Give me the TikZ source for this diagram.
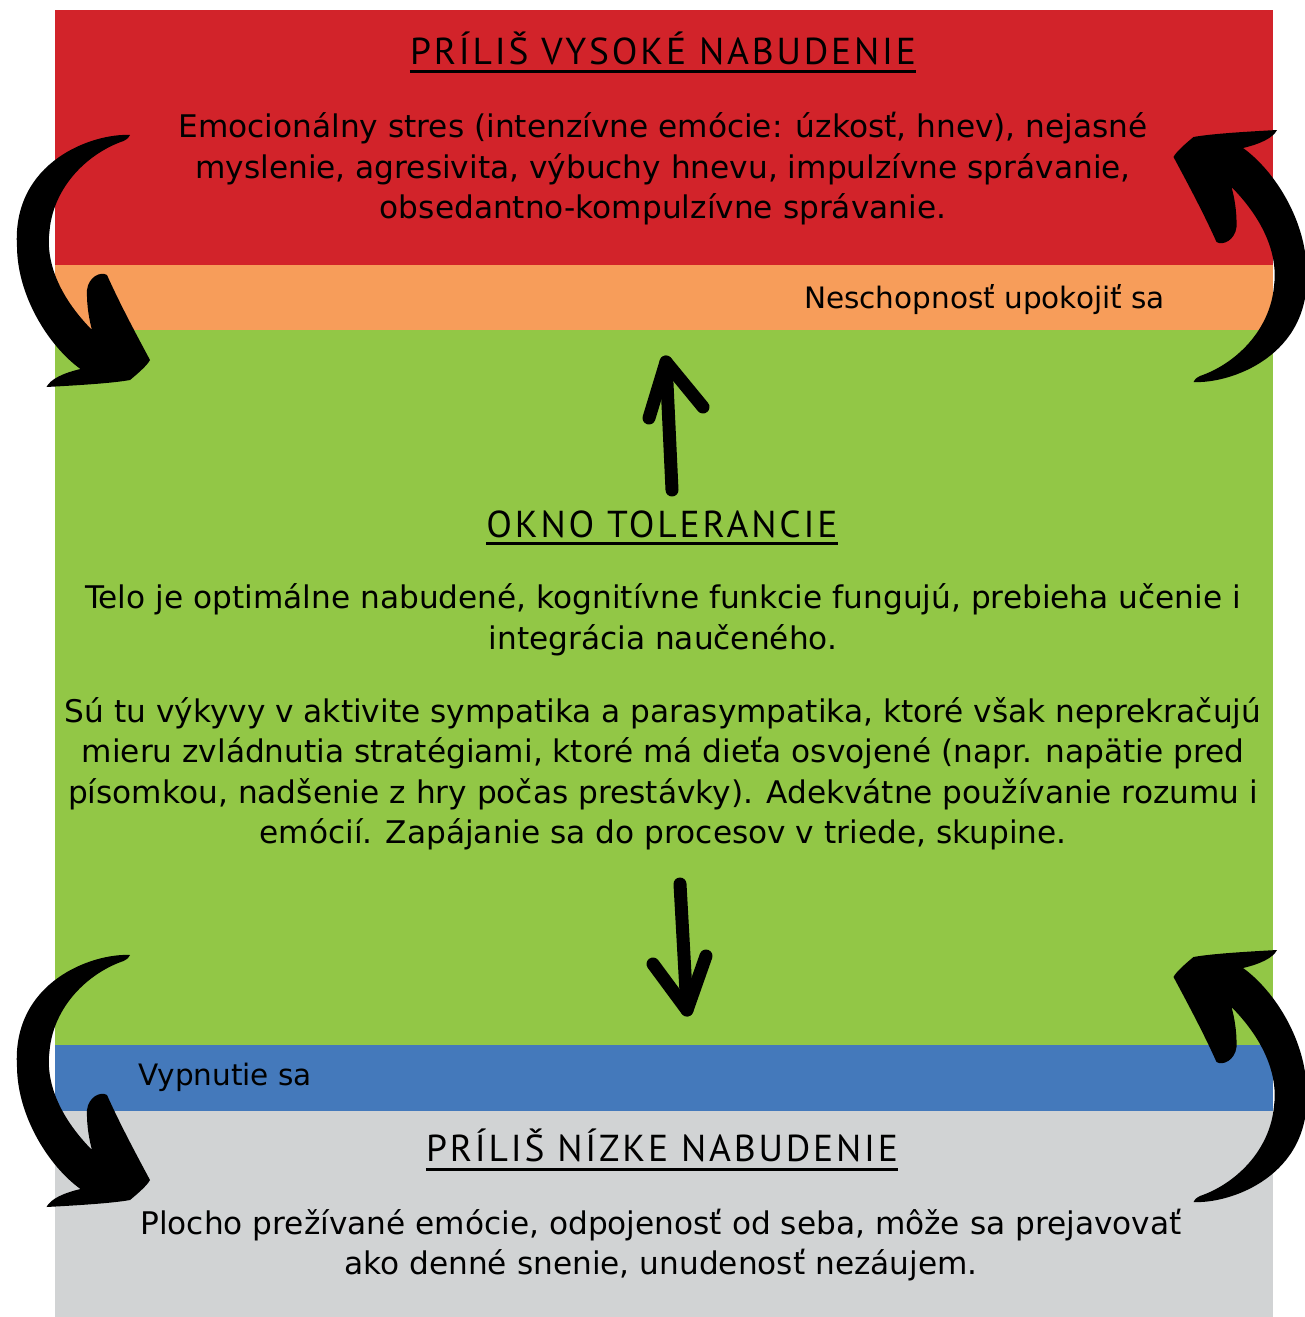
\documentclass[tikz,border=0pt]{standalone}
\usepackage{fontspec}
\setmainfont{DejaVu Sans}
\newfontfamily\headfont[LetterSpace=7.5]{PT Sans}
\usetikzlibrary{positioning}

\definecolor{bandred}{RGB}{210,35,42}
\definecolor{bandorange}{RGB}{247,157,90}
\definecolor{bandgreen}{RGB}{146,199,70}
\definecolor{bandblue}{RGB}{68,121,187}
\definecolor{bandgrey}{RGB}{209,211,212}

\begin{document}
\begin{tikzpicture}[
      x=1pt,
      y=-1pt,
      headtxt/.style={anchor=base, inner sep=0pt, font=\headfont\fontsize{37.5}{40}\selectfont},
      bodytxt/.style={align=center, inner sep=0pt, font=\fontsize{31.2}{40.5}\selectfont},
      smalltxt/.style={inner sep=0pt, font=\fontsize{29.5}{32}\selectfont},
      uline/.style={line width=3pt},
      brush/.style={line width=13pt, line cap=round, line join=round},
      swirl/.pic={
        \fill (46.5,-126) .. controls (10,-128) and (-72,-100) .. (-66.5,-14)
          .. controls (-66,35) and (-35,85) .. (-3,108)
          .. controls (-20,112) and (-33,118) .. (-37,126)
          .. controls (0,124) and (30,122) .. (46.5,119)
          .. controls (55,112) and (64,104) .. (66.5,99)
          .. controls (52,72) and (36,42) .. (23.5,14)
          .. controls (17,10) and (5,16) .. (3.5,29)
          .. controls (3,45) and (6,60) .. (8.5,69)
          .. controls (-25,35) and (-38,0) .. (-34,-30)
          .. controls (-30,-75) and (5,-108) .. (40,-120)
          .. controls (44,-122) and (46,-124) .. (46.5,-126) -- cycle;
      }
  ]
  \useasboundingbox (0,0) rectangle (1304,1317);

  % --- Bands ---
  \fill[bandred]    (55,10)   rectangle (1273,265);
  \fill[bandorange] (55,265)  rectangle (1273,330);
  \fill[bandgreen]  (55,330)  rectangle (1273,1045);
  \fill[bandblue]   (55,1045) rectangle (1273,1111);
  \fill[bandgrey]   (55,1111) rectangle (1273,1317);

  % --- Too high ---
  \node[headtxt] (high) at (663,64) {PRÍLIŠ VYSOKÉ NABUDENIE};
  \draw[uline] ([yshift=-7pt]high.base west) -- ([yshift=-7pt]high.base east);
  \node[bodytxt] (highdesc) at (663,169) {Emocionálny stres (intenzívne emócie: úzkosť, hnev), nejasné\\
    myslenie, agresivita, výbuchy hnevu, impulzívne správanie,\\
    obsedantno-kompulzívne správanie.};
  \node[smalltxt, anchor=east] (calm) at (1165,300) {Neschopnosť upokojiť sa};

  % --- Window ---
  \node[headtxt] (window) at (662,537) {OKNO TOLERANCIE};
  \draw[uline] ([yshift=-6pt]window.base west) -- ([yshift=-6pt]window.base east);
  \node[bodytxt] (winfirst) at (663,620) {Telo je optimálne nabudené, kognitívne funkcie fungujú, prebieha učenie i\\
    integrácia naučeného.};
  \node[bodytxt] (winsecond) at (663,774) {Sú tu výkyvy v aktivite sympatika a parasympatika, ktoré však neprekračujú\\
    mieru zvládnutia stratégiami, ktoré má dieťa osvojené (napr. napätie pred\\
    písomkou, nadšenie z hry počas prestávky). Adekvátne používanie rozumu i\\
    emócií. Zapájanie sa do procesov v triede, skupine.};

  % --- Too low ---
  \node[smalltxt, anchor=west] (shutdown) at (138,1077) {Vypnutie sa};
  \node[headtxt] (low) at (662,1161) {PRÍLIŠ NÍZKE NABUDENIE};
  \draw[uline] ([yshift=-8pt]low.base west) -- ([yshift=-8pt]low.base east);
  \node[bodytxt] (lowdesc) at (661,1245) {Plocho prežívané emócie, odpojenosť od seba, môže sa prejavovať\\
    ako denné snenie, unudenosť nezáujem.};

  % --- Swirl arrows ---
  \pic at (83.5,261) {swirl};
  \pic at (83.5,1081) {swirl};
  \pic[rotate=180] at (1240,256) {swirl};
  \pic[rotate=180] at (1240,1076) {swirl};

  % --- Up and down arrows ---
  \coordinate (upfoot) at (672,490);
  \coordinate (uptip)  at (666,362);
  \draw[brush] (upfoot) -- (uptip);
  \draw[brush] (649,418) -- (uptip) -- (703,407);

  \coordinate (downtop) at (680,884);
  \coordinate (downtip) at (687,1010);
  \draw[brush] (downtop) -- (downtip);
  \draw[brush] (653,964) -- (downtip) -- (706,956);

\end{tikzpicture}
\end{document}
